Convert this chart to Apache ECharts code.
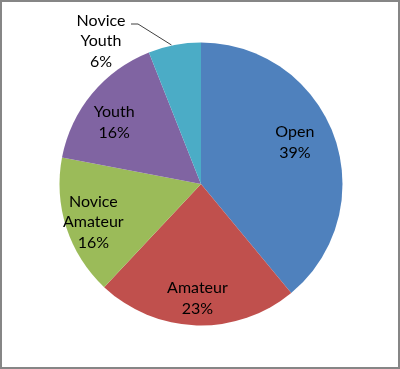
<!DOCTYPE html>
<html><head><meta charset="utf-8">
<script src="https://cdn.jsdelivr.net/npm/echarts@6/dist/echarts.min.js"></script>
<style>
html,body{margin:0;padding:0;background:#fff;}
#frame{position:absolute;left:0;top:0;width:396px;height:365px;border:2px solid #868686;}
#c{position:absolute;left:0;top:0;width:400px;height:369px;}
</style></head>
<body><div id="frame"></div><div id="c"></div>
<script>
const categories = ['Open', 'Amateur', 'Novice\nAmateur', 'Youth', 'Novice\nYouth'];
const values = [39, 23, 16, 16, 6];
const colors = ['#4F81BD', '#C0504D', '#9BBB59', '#8064A2', '#4BACC6'];

const cx = 201, cy = 184, R = 141.5;
const total = values.reduce((a, b) => a + b, 0);
const mids = [];
let acc = 0;
values.forEach(v => { mids.push((acc + v / 2) / total * 2 * Math.PI); acc += v; });

const chart = echarts.init(document.getElementById('c'), null, {renderer: 'canvas'});
chart.setOption({
  animation: false,
  series: [{
    type: 'pie',
    center: [cx, cy],
    radius: [0, R],
    startAngle: 90,
    clockwise: true,
    data: categories.map((n, i) => ({
      name: n, value: values[i], itemStyle: {color: colors[i]},
      label: {position: i === 4 ? 'outside' : 'inside'},
      labelLine: {show: i === 4}
    })),
    itemStyle: {borderWidth: 0},
    label: {
      show: true,
      formatter: p => p.name + '\n' + p.percent.toFixed(0) + '%',
      fontFamily: 'Lato',
      fontSize: 16,
      lineHeight: 20.5,
      color: '#000'
    },
    labelLine: {lineStyle: {color: '#404040', width: 1}},
    labelLayout: function (p) {
      const a = mids[p.dataIndex];
      if (p.dataIndex === 4) {
        const ex = cx + R * Math.sin(a), ey = cy - R * Math.cos(a);
        return {
          x: 101, y: 41, align: 'center', verticalAlign: 'middle',
          labelLinePoints: [[ex - 3, ey], [138, 24], [131, 24]]
        };
      }
      const k = [0.72, 0.8, 0.8, 0.75][p.dataIndex];
      const off = [[-2, -7], [0, 1], [0, 3], [-5, 6]][p.dataIndex];
      return {
        x: cx + k * R * Math.sin(a) + off[0],
        y: cy - k * R * Math.cos(a) + off[1],
        align: 'center', verticalAlign: 'middle'
      };
    }
  }]
});
</script></body></html>
